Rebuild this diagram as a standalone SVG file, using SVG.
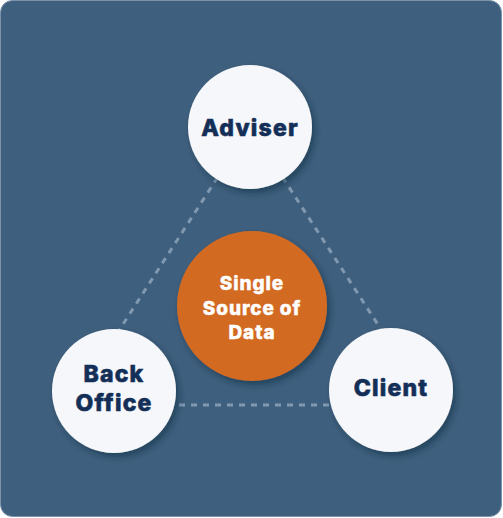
<svg xmlns="http://www.w3.org/2000/svg" width="503" height="518" viewBox="0 0 503 518">
<defs>
<filter id="sh" x="-20%" y="-20%" width="150%" height="150%">
<feDropShadow dx="3" dy="4" stdDeviation="3" flood-color="#0F2236" flood-opacity="0.45"/>
</filter>
</defs>
<style>
.bg{fill:#3E5F7D;stroke:#7C93AB;stroke-width:1}
.conn{stroke:#8099B1;stroke-width:3;stroke-dasharray:6 6;fill:none}
.node{fill:#F5F7FA;filter:url(#sh)}
.core{fill:#D36A20;filter:url(#sh)}
.lbl{font-family:Inter,"Noto Sans",sans-serif;font-weight:800;font-size:23px;fill:#142F57;stroke:#142F57;stroke-width:0.6px;text-anchor:middle;letter-spacing:1.2px}
.clbl{font-family:Inter,"Noto Sans",sans-serif;font-weight:800;font-size:19px;fill:#FFFFFF;stroke:#FFFFFF;stroke-width:0.4px;text-anchor:middle;letter-spacing:0.9px}
</style>
<rect class="bg" x="0.5" y="0.5" width="501" height="516" rx="12"/>
<g id="connectors">
<line class="conn" x1="250" y1="127" x2="71" y2="405"/>
<line class="conn" x1="250" y1="127" x2="430" y2="405"/>
<line class="conn" x1="71" y1="405" x2="430" y2="405"/>
</g>
<g id="adviser">
<circle class="node" cx="250" cy="127" r="62"/>
<text class="lbl" x="250" y="136">Adviser</text>
</g>
<g id="back-office">
<circle class="node" cx="114" cy="391" r="62"/>
<text class="lbl" x="114" y="382">Back</text>
<text class="lbl" x="114" y="411">Office</text>
</g>
<g id="client">
<circle class="node" cx="391" cy="390" r="62"/>
<text class="lbl" x="391" y="396">Client</text>
</g>
<g id="single-source">
<circle class="core" cx="252" cy="306" r="75"/>
<text class="clbl" x="252" y="290">Single</text>
<text class="clbl" x="252" y="315">Source of</text>
<text class="clbl" x="252" y="339">Data</text>
</g>
</svg>
